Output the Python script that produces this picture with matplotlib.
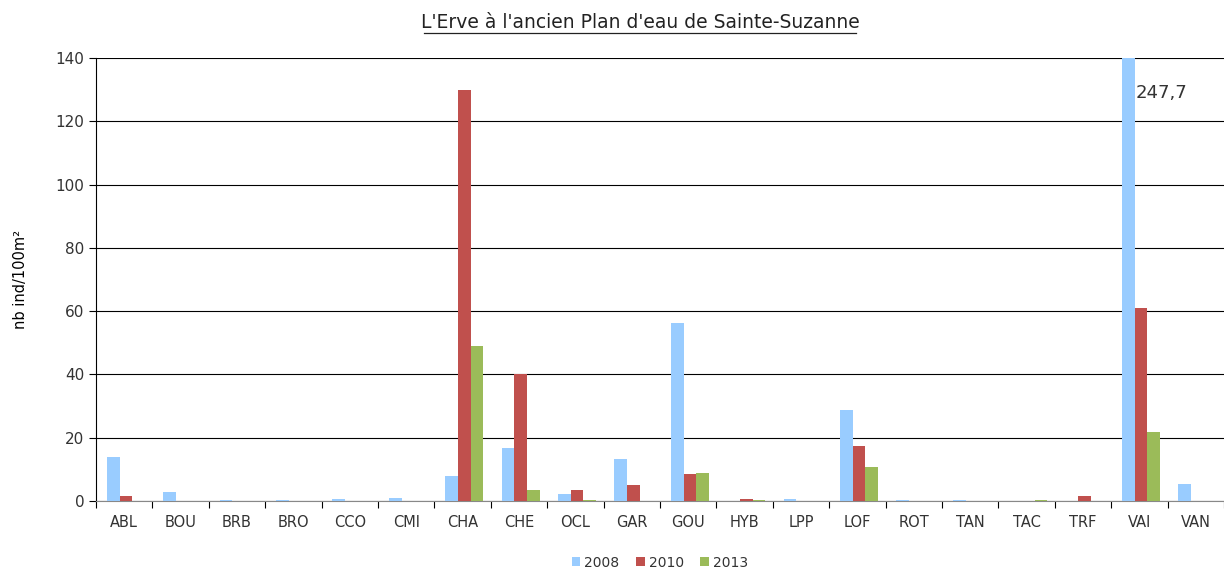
import numpy as np
import matplotlib
matplotlib.use("Agg")
import matplotlib.pyplot as plt
from matplotlib.lines import Line2D

species = ["ABL", "BOU", "BRB", "BRO", "CCO", "CMI", "CHA", "CHE", "OCL", "GAR",
           "GOU", "HYB", "LPP", "LOF", "ROT", "TAN", "TAC", "TRF", "VAI", "VAN"]
d2008 = [13.8, 3.0, 0.4, 0.4, 0.6, 1.0, 7.8, 16.6, 2.1, 13.2,
         56.3, 0.0, 0.6, 28.7, 0.3, 0.3, 0.0, 0.0, 247.7, 5.5]
d2010 = [1.5, 0.0, 0.0, 0.0, 0.0, 0.0, 130.0, 40.0, 3.4, 4.9,
         8.4, 0.6, 0.0, 17.5, 0.0, 0.0, 0.0, 1.5, 61.0, 0.0]
d2013 = [0.0, 0.0, 0.0, 0.0, 0.0, 0.0, 49.0, 3.6, 0.4, 0.0,
         8.8, 0.3, 0.0, 10.9, 0.0, 0.0, 0.3, 0.0, 21.7, 0.0]
years = ["2008", "2010", "2013"]
colors = ["#99ccff", "#c0504d", "#9bbb59"]

plt.rcParams['font.family'] = ['DejaVu Sans']
fig = plt.figure(figsize=(12.24, 5.68), dpi=100)
ax = fig.add_axes([96/1224, 1 - 501/568, (1224-96)/1224, (501-58)/568])

x = np.arange(len(species))
w = 0.225
for i, (vals, col, yr) in enumerate(zip([d2008, d2010, d2013], colors, years)):
    ax.bar(x + (i - 1) * w + 0.03, vals, width=w, color=col, label=yr, zorder=3)

ymax = 140
ax.set_ylim(0, ymax)
ax.set_xlim(-0.5, len(species) - 0.5)
ax.set_yticks(np.arange(0, 141, 20))
ax.yaxis.grid(True, color='black', linewidth=0.8, zorder=0)

# values beyond the axis limit are written next to the bar
for xi, v in zip(x, d2008):
    if v > ymax:
        ax.text(xi + 0.4, ymax * 0.92, f"{v:.1f}".replace(".", ","),
                fontsize=13, color='#333333', ha='center', va='center')

ax.set_xticks(x)
ax.set_xticklabels(species, fontsize=10.5, color='#333333')
ax.set_xticks(np.arange(-0.5, len(species)), minor=True)
ax.tick_params(axis='x', which='major', length=0, pad=10)
ax.tick_params(axis='x', which='minor', length=5, direction='out', width=0.8)
ax.tick_params(axis='y', labelsize=11, labelcolor='#333333', length=5, width=0.8)

for s in ['top', 'right']:
    ax.spines[s].set_visible(False)
ax.spines['left'].set_linewidth(0.8)
ax.spines['bottom'].set_color('#888888')

ax.set_ylabel("nb ind/100m²", fontsize=10.5, labelpad=20)

fig.text(640/1224, 1 - 22/568, "L'Erve à l'ancien Plan d'eau de Sainte-Suzanne",
         ha='center', va='center', fontsize=13.5, color='#222222')
fig.add_artist(Line2D([424/1224, 856/1224], [1 - 33/568, 1 - 33/568],
                      transform=fig.transFigure, color='#222222', linewidth=0.9))

ax.legend(loc='upper center', bbox_to_anchor=(0.5, -0.095), ncol=3, frameon=False,
          fontsize=10, handlelength=0.6, handleheight=0.6, handletextpad=0.3,
          columnspacing=1.2, labelcolor='#333333')

fig.savefig("out.png", dpi=100)
